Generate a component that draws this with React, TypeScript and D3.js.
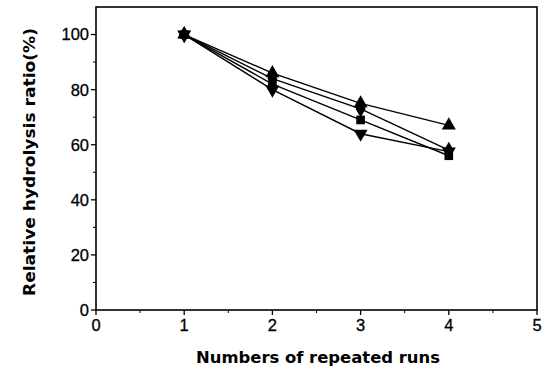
import React from "react";
import * as d3 from "d3";

const runs = [1, 2, 3, 4];
const seriesUp = [100, 86, 75, 67];
const seriesDiamond = [100, 84, 73, 58];
const seriesSquare = [100, 82, 69, 56];
const seriesDown = [100, 80, 64, 57.5];
const xTicks = [0, 1, 2, 3, 4, 5];
const yTicks = [0, 20, 40, 60, 80, 100];

const W = 553, H = 369;
const m = { left: 96, right: 16, top: 7, bottom: 59 };

export default function App() {
  const x = d3.scaleLinear().domain([0, 5]).range([m.left, W - m.right]);
  const y = d3.scaleLinear().domain([0, 110]).range([H - m.bottom, m.top]);
  const line = d3.line<number>().x((_, i) => x(runs[i])).y((v) => y(v));
  const series = [
    { vals: seriesUp, sym: d3.symbolTriangle, rot: 0 },
    { vals: seriesDiamond, sym: d3.symbolDiamond, rot: 0 },
    { vals: seriesSquare, sym: d3.symbolSquare, rot: 0 },
    { vals: seriesDown, sym: d3.symbolTriangle, rot: 180 },
  ];
  const yMinor = d3.range(10, 110, 20);
  const xMinor = d3.range(0.5, 5, 1);
  const font = "Arial, 'Liberation Sans', sans-serif";
  const tfont = "'DejaVu Sans', Arial, sans-serif";
  return (
    <svg width={W} height={H} style={{ position: "absolute", left: 0, top: 0, background: "#fff" }}>
      <rect x={x(0)} y={y(110)} width={x(5) - x(0)} height={y(0) - y(110)} fill="none" stroke="#000" strokeWidth={1.6} />
      {yTicks.map((t) => (
        <g key={"y" + t}>
          <line x1={x(0) - 5} x2={x(0)} y1={y(t)} y2={y(t)} stroke="#000" strokeWidth={1.3} />
          <text x={x(0) - 7} y={y(t)} dy="0.36em" textAnchor="end" fontFamily={font} fontSize={16.5} stroke="#000" strokeWidth={0.3}>{t}</text>
        </g>
      ))}
      {yMinor.map((t) => (
        <line key={"ym" + t} x1={x(0) - 3} x2={x(0)} y1={y(t)} y2={y(t)} stroke="#000" strokeWidth={1} />
      ))}
      {xTicks.map((t) => (
        <g key={"x" + t}>
          <line x1={x(t)} x2={x(t)} y1={y(0)} y2={y(0) + 5} stroke="#000" strokeWidth={1.3} />
          <text x={x(t)} y={y(0) + 21} textAnchor="middle" fontFamily={font} fontSize={16.5} stroke="#000" strokeWidth={0.3}>{t}</text>
        </g>
      ))}
      {xMinor.map((t) => (
        <line key={"xm" + t} x1={x(t)} x2={x(t)} y1={y(0)} y2={y(0) + 3} stroke="#000" strokeWidth={1} />
      ))}
      <text x={318} y={363} textAnchor="middle" fontFamily={tfont} fontSize={15} fontWeight="bold" textLength={244} lengthAdjust="spacingAndGlyphs">Numbers of repeated runs</text>
      <text transform={`translate(35,162) rotate(-90)`} textAnchor="middle" fontFamily={tfont} fontSize={15} fontWeight="bold" textLength={268} lengthAdjust="spacingAndGlyphs">Relative hydrolysis ratio(%)</text>
      {series.map((s, si) => (
        <g key={"s" + si}>
          <path d={line(s.vals) || ""} fill="none" stroke="#000" strokeWidth={1.4} />
          {s.vals.map((v, i) => (
            <path key={i} transform={`translate(${x(runs[i])},${y(v)}) rotate(${s.rot})`} d={d3.symbol(s.sym, s.sym === d3.symbolSquare ? 75 : 85)() || ""} fill="#000" />
          ))}
        </g>
      ))}
    </svg>
  );
}
